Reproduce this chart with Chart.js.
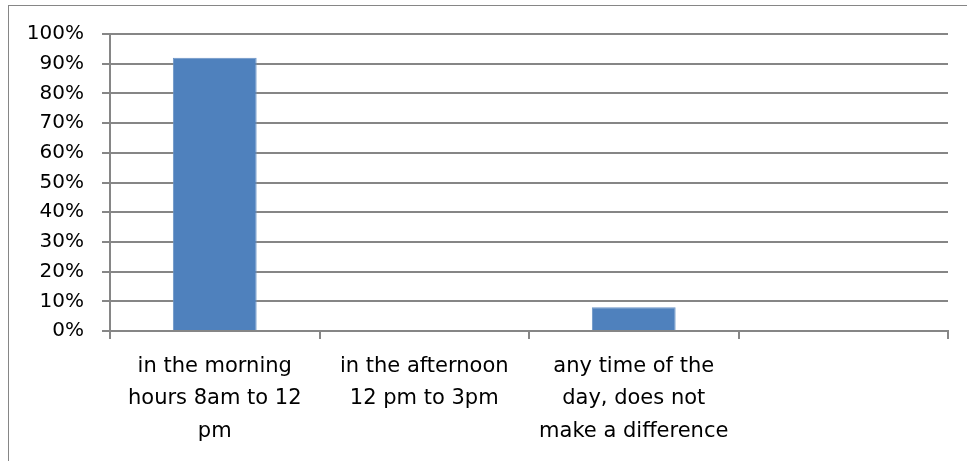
<!DOCTYPE html>
<html>
<head>
<meta charset="utf-8">
<script src="https://cdn.jsdelivr.net/npm/chart.js@4"></script>
<style>
  html, body { margin: 0; padding: 0; background: #fff; overflow: hidden; }
  #wrap { position: relative; width: 967px; height: 461px; }
  #frame { position: absolute; left: 8px; top: 5px; width: 1000px; height: 500px; border: 1px solid #868686; }
  #chart { position: absolute; left: 0; top: 0; }
</style>
</head>
<body>
<div id="wrap">
  <div id="frame"></div>
  <canvas id="chart" width="967" height="461"></canvas>
</div>
<script>
// categories (multi-line labels as in the original)
const categories = [
    ['in the morning', 'hours 8am to 12', 'pm'],
    ['in the afternoon', '12 pm to 3pm'],
    ['any time of the', 'day, does not', 'make a difference'],
    ''
];
const shares = [92, 0, 8, 0];
const yTicks = [0, 10, 20, 30, 40, 50, 60, 70, 80, 90, 100];

document.addEventListener('DOMContentLoaded', function () {
    const ctx = document.getElementById('chart').getContext('2d');
    const fontFamily = '"DejaVu Sans", sans-serif';
    new Chart(ctx, {
        type: 'bar',
        data: {
            labels: categories,
            datasets: [{
                data: shares,
                backgroundColor: '#4f81bd',
                borderColor: '#6a93c6',
                borderWidth: 1,
                barPercentage: 0.4,
                categoryPercentage: 1.0
            }]
        },
        options: {
            responsive: false,
            animation: false,
            layout: { padding: { top: 34, right: 19, left: 0, bottom: 0 } },
            plugins: { legend: { display: false }, tooltip: { enabled: false } },
            scales: {
                x: {
                    grid: {
                        display: true,
                        offset: true,
                        drawOnChartArea: false,
                        drawTicks: true,
                        tickLength: 8,
                        color: '#868686',
                        lineWidth: 2
                    },
                    border: { display: true, color: '#868686', width: 2 },
                    ticks: {
                        color: '#000',
                        font: { family: fontFamily, size: 21, lineHeight: 1.55 },
                        padding: 11,
                        maxRotation: 0,
                        autoSkip: false
                    },
                    afterFit: function (scale) { scale.height = 130; }
                },
                y: {
                    min: 0,
                    max: 100,
                    afterBuildTicks: function (scale) {
                        scale.ticks = yTicks.map(v => ({ value: v }));
                    },
                    grid: {
                        color: '#868686',
                        lineWidth: 2,
                        tickLength: 8
                    },
                    border: { display: true, color: '#868686', width: 2 },
                    ticks: {
                        color: '#000',
                        font: { family: fontFamily, size: 20 },
                        padding: 18,
                        callback: v => v + '%'
                    },
                    afterFit: function (scale) { scale.width = 110; }
                }
            }
        }
    });
});
</script>
</body>
</html>
